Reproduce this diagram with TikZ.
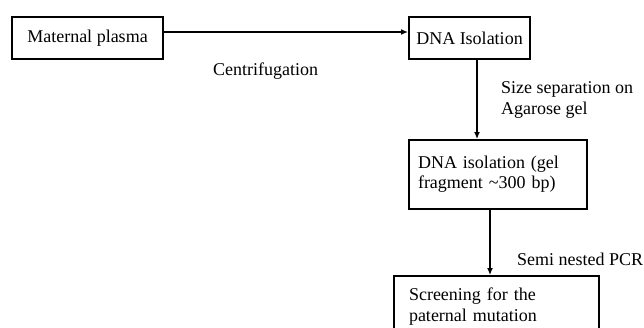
\documentclass[tikz,border=0pt]{standalone}
\usepackage{fontspec}
\setmainfont{Liberation Serif}
\usepackage{tikz}
\usetikzlibrary{arrows.meta}

\tikzset{
    stage/.style={draw, line width=2pt, anchor=north west, align=left},
    flow/.style={line width=1.3pt, -{Latex[length=7pt,width=6pt]}},
    note/.style={anchor=west, align=left, inner sep=0pt}
}

\begin{document}
\begin{tikzpicture}[x=1pt, y=-1pt, font=\fontsize{18}{20.5}\selectfont]
            % Frame of the picture
            \clip (0,0) rectangle (644,327);
            % Stages
            \node[stage, minimum width=151pt, minimum height=42pt] (plasma) at (11,16) {Maternal plasma};
            \node[stage, minimum width=121pt, minimum height=42pt] (isolation) at (408,16) {DNA Isolation};
            \node[stage, text width=160pt, inner ysep=16pt, inner xsep=9pt] (gel) at (408,139) {DNA isolation (gel\\ fragment \textasciitilde 300 bp)};
            \node[stage, text width=175pt, inner ysep=12pt, inner xsep=15pt] (screen) at (393,275) {Screening for the\\ paternal mutation};
            % Connectors
            \draw[flow] ([yshift=6pt]plasma.east) -- ([yshift=6pt]isolation.west);
            \draw[flow] ([xshift=7.5pt]isolation.south) -- ([xshift=7.5pt]isolation.south |- gel.north);
            \draw[flow] ([xshift=-8pt]gel.south) -- ([xshift=-8pt]gel.south |- screen.north);
            % Step labels
            \node[note] (spin) at (213,71) {Centrifugation};
            \node[note] (size) at (501,100) {Size separation on\\ Agarose gel};
            \node[note] (pcr) at (517,259) {Semi nested PCR};
\end{tikzpicture}
\end{document}
